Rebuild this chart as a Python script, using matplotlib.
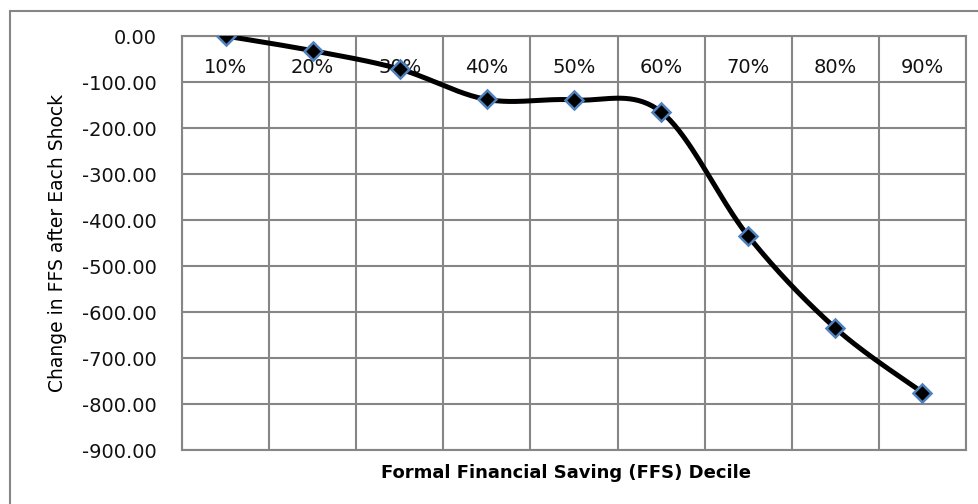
import numpy as np
import matplotlib
matplotlib.use("Agg")
import matplotlib.pyplot as plt
from matplotlib.patches import Rectangle

categories = ["10%", "20%", "30%", "40%", "50%", "60%", "70%", "80%", "90%"]
values = [0.0, -32.0, -72.0, -138.0, -139.0, -165.0, -435.0, -635.0, -775.0]
y_ticks = [0, -100, -200, -300, -400, -500, -600, -700, -800, -900]


def smooth_curve(xs, ys, n=40):
    # Excel-like smoothed line: Catmull-Rom converted to cubic Bezier segments
    xs = np.asarray(xs, float)
    ys = np.asarray(ys, float)
    P = np.column_stack([xs, ys])
    out = []
    m = len(P)
    for i in range(m - 1):
        p0 = P[i - 1] if i > 0 else P[i]
        p1 = P[i]
        p2 = P[i + 1]
        p3 = P[i + 2] if i + 2 < m else P[i + 1]
        c1 = p1 + (p2 - p0) / 6.0
        c2 = p2 - (p3 - p1) / 6.0
        t = np.linspace(0, 1, n)[:, None]
        seg = ((1 - t) ** 3) * p1 + 3 * ((1 - t) ** 2) * t * c1 + 3 * (1 - t) * t ** 2 * c2 + t ** 3 * p2
        if i > 0:
            seg = seg[1:]
        out.append(seg)
    out = np.vstack(out)
    return out[:, 0], out[:, 1]


fig = plt.figure(figsize=(9.79, 5.04), dpi=100)
fig.patch.set_facecolor("white")

# outer chart frame
fig.patches.append(Rectangle((10 / 979, -0.05), 1.2, 1 - 11 / 504 + 0.05,
                             transform=fig.transFigure, fill=False,
                             edgecolor="#868686", linewidth=1.5))

ax = fig.add_axes([182 / 979, 1 - 450 / 504, (966 - 182) / 979, (450 - 36) / 504])

x = np.arange(len(categories))
sx, sy = smooth_curve(x, values)
ax.plot(sx, sy, color="black", linewidth=3.6, zorder=3, solid_capstyle="round")
ax.plot(x, values, linestyle="none", marker="D", markersize=9.5,
        markerfacecolor="black", markeredgecolor="#4F81BD", markeredgewidth=1.8, zorder=4)

ax.set_xlim(-0.5, len(categories) - 0.5)
ax.set_ylim(-900, 0)
ax.set_yticks(y_ticks)
ax.set_yticklabels([f"{v:.2f}" for v in y_ticks], fontsize=14, color="#111111")

ax.set_xticks(x)
ax.set_xticklabels(categories, fontsize=14, color="#111111")
ax.set_xticks(np.arange(len(categories) + 1) - 0.5, minor=True)
ax.xaxis.set_ticks_position("top")
ax.tick_params(axis="x", which="major", length=0, pad=-29.5, labeltop=True, labelbottom=False)
ax.tick_params(axis="x", which="minor", length=0)
ax.tick_params(axis="y", length=0, pad=18)

ax.grid(True, axis="y", which="major", color="#868686", linewidth=1.5)
ax.grid(True, axis="x", which="minor", color="#868686", linewidth=1.5)
ax.grid(False, axis="x", which="major")
ax.set_axisbelow(True)
for s in ax.spines.values():
    s.set_color("#868686")
    s.set_linewidth(1.5)

ax.set_ylabel("Change in FFS after Each Shock", fontsize=13.5)
ax.yaxis.set_label_coords(-0.147, 0.5)
ax.set_xlabel("Formal Financial Saving (FFS) Decile", fontsize=13, fontweight="bold")
ax.xaxis.set_label_position("bottom")
ax.xaxis.set_label_coords(0.49, -0.035)

fig.savefig("out.png", dpi=100)
